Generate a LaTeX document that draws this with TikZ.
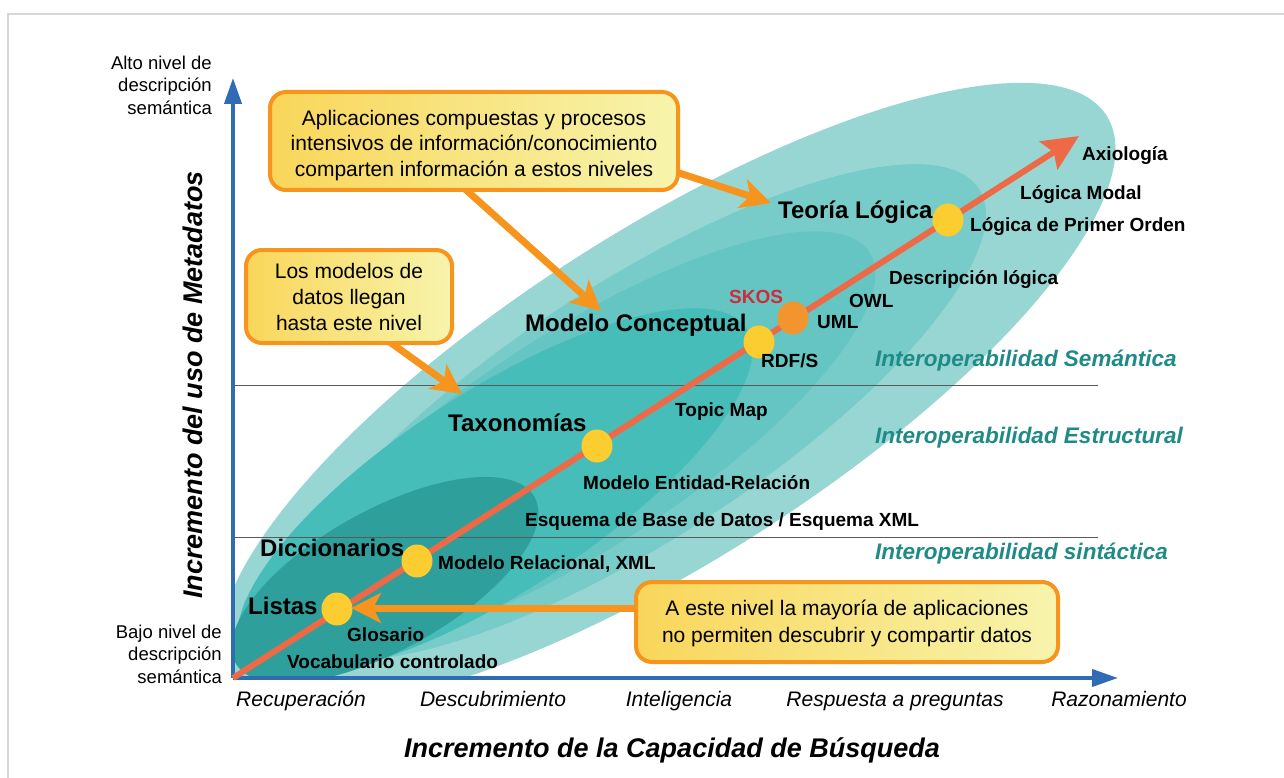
\documentclass[tikz,border=0pt]{standalone}
\usepackage{fontspec}
\setmainfont{Liberation Sans}
\usetikzlibrary{arrows.meta,shapes.geometric}
\definecolor{axisblue}{HTML}{2F6CB3}
\definecolor{frameg}{HTML}{D6D6D6}
\definecolor{tealA}{HTML}{98D6D3}
\definecolor{tealB}{HTML}{77CBC8}
\definecolor{tealC}{HTML}{64C5C2}
\definecolor{tealD}{HTML}{46BDB8}
\definecolor{tealE}{HTML}{2F9F9C}
\definecolor{diagred}{HTML}{EE6A47}
\definecolor{callorange}{HTML}{F7941D}
\definecolor{dotyellow}{HTML}{FCCD30}
\definecolor{dotorange}{HTML}{F3952F}
\definecolor{callL}{HTML}{F9D65A}
\definecolor{callR}{HTML}{F7F4AC}
\definecolor{interteal}{HTML}{1F8B87}
\definecolor{skosred}{HTML}{D22A3A}
\definecolor{rulegray}{HTML}{5A5A5A}
\newcommand\tealEllipse[6]{\fill[#1, rotate around={#6:(#2,#3)}] (#2,#3) ellipse [x radius=#4pt, y radius=#5pt];}
\tikzset{
  big/.style={inner sep=0pt, anchor=west, yshift=-4pt, font=\fontsize{24}{28}\selectfont\bfseries, text height=0.72em, text depth=0pt},
  small/.style={inner sep=0pt, anchor=west, yshift=-3.5pt, font=\fontsize{19}{22}\selectfont\bfseries, text height=0.72em, text depth=0pt},
  inter/.style={inner sep=0pt, anchor=west, yshift=-4.5pt, text=interteal, font=\fontsize{22.5}{26}\selectfont\bfseries\itshape, text height=0.72em, text depth=0pt},
  xlab/.style={inner sep=0pt, font=\fontsize{21}{24}\selectfont\itshape, text height=0.72em, text depth=0pt},
  ydesc/.style={inner sep=0pt, align=right, font=\fontsize{18.5}{22.5}\selectfont},
  title/.style={inner sep=0pt, font=\fontsize{27}{30}\selectfont\bfseries\itshape},
  callout/.style={draw=callorange, line width=4pt, rounded corners=16pt, left color=callL, right color=callR, inner sep=0pt},
  calltext/.style={align=center, inner sep=0pt},
  callarrow/.style={draw=callorange, line width=7pt, -{Stealth[length=30pt,width=30pt,inset=8pt]}},
  axisarrow/.style={draw=axisblue, line width=4pt, -{Triangle[length=26pt,width=17pt]}},
  dot/.style={ellipse, fill=dotyellow, minimum width=31pt, minimum height=33pt, inner sep=0pt},
}
\begin{document}
\begin{tikzpicture}[x=1pt,y=-1pt]
\useasboundingbox (0,0) rectangle (1284,778);
\fill[white] (0,0) rectangle (1284,778);
\draw[frameg, line width=1.5pt] (8,778) -- (8,14) -- (1284,14);

% nested lenses
\begin{scope}
\clip (233,0) rectangle (1284,678);
\tealEllipse{tealA}{668}{395}{520}{165}{32.5}
\tealEllipse{tealB}{635}{412}{410}{128}{33}
\tealEllipse{tealC}{580}{440}{345}{108}{33}
\tealEllipse{tealD}{495}{492}{300}{100}{33}
\tealEllipse{tealE}{385}{580}{171}{70}{29}
\end{scope}

% interoperability separators
\coordinate (s1a) at (233,385); \coordinate (s1b) at (1098,385);
\coordinate (s2a) at (233,537); \coordinate (s2b) at (1098,537);
\draw[rulegray, line width=1pt] (s1a) -- (s1b);
\draw[rulegray, line width=1pt] (s2a) -- (s2b);

% axes
\coordinate (O) at (233,678);
\coordinate (ytip) at (233,78);
\coordinate (xtip) at (1118,678);
\draw[axisarrow] (O) -- (ytip);
\draw[axisarrow] (O) -- (xtip);

% diagonal arrow
\coordinate (dstart) at (233,678);
\coordinate (dtip) at (1079,136);
\draw[diagred, line width=6pt, -{Stealth[length=36pt,width=33pt,inset=6pt]}] (dstart) -- (dtip);

% dots
\node[dot] (dl) at (337,609) {};
\node[dot] (dd) at (417,561) {};
\node[dot] (dt) at (597,446) {};
\node[dot] (dm) at (759,342) {};
\node[dot, fill=dotorange] (ds) at (793,318) {};
\node[dot] (dlt) at (948,220) {};

% big labels
\node[big] (listas) at (248,607) {Listas};
\node[big] (dicc) at (260,549) {Diccionarios};
\node[big] (taxo) at (448,424) {Taxonomías};
\node[big] (mcon) at (525,324) {Modelo Conceptual};
\node[big] (teor) at (778,211) {Teoría Lógica};

% small labels
\node[small] (glos) at (347,634) {Glosario};
\node[small] (voca) at (287,661) {Vocabulario controlado};
\node[small] (mrel) at (438,562) {Modelo Relacional, XML};
\node[small] (esq) at (525,519) {Esquema de Base de Datos / Esquema XML};
\node[small] (mer) at (583,482) {Modelo Entidad-Relación};
\node[small] (topic) at (675,409) {Topic Map};
\node[small] (rdfs) at (761,360) {RDF/S};
\node[small] (uml) at (817,321) {UML};
\node[small, text=skosred] (skos) at (729,296) {SKOS};
\node[small] (owl) at (849,300) {OWL};
\node[small] (dlog) at (889,277) {Descripción lógica};
\node[small] (lpo) at (970,224) {Lógica de Primer Orden};
\node[small] (lmod) at (1020,192) {Lógica Modal};
\node[small] (axio) at (1082,153) {Axiología};

% interoperability labels
\node[inter] (isem) at (875,358) {Interoperabilidad Semántica};
\node[inter] (iest) at (875,435) {Interoperabilidad Estructural};
\node[inter] (isin) at (875,551) {Interoperabilidad sintáctica};

% axis descriptions
\node[ydesc, anchor=east] (alto) at (212,85) {Alto nivel de\\descripción\\semántica};
\node[ydesc, anchor=east] (bajo) at (222,654) {Bajo nivel de\\descripción\\semántica};
\node[title, rotate=90] (ytitle) at (193,385) {Incremento del uso de Metadatos};
\node[title] (xtitle) at (672,750) {Incremento de la Capacidad de Búsqueda};
\node[xlab] (x1) at (301,703) {Recuperación};
\node[xlab] (x2) at (493,703) {Descubrimiento};
\node[xlab] (x3) at (679,703) {Inteligencia};
\node[xlab] (x4) at (895,703) {Respuesta a preguntas};
\node[xlab] (x5) at (1119,703) {Razonamiento};

% callout arrows
\coordinate (c1s) at (455,180); \coordinate (c1t) at (601,311);
\coordinate (c1s2) at (670,170); \coordinate (c1t2) at (771,203);
\coordinate (c2s) at (380,335); \coordinate (c2t) at (462,394);
\coordinate (c3s) at (650,608); \coordinate (c3t) at (351,608);
\draw[callarrow] (c1s) -- (c1t);
\draw[callarrow] (c1s2) -- (c1t2);
\draw[callarrow] (c2s) -- (c2t);
\draw[callarrow] (c3s) -- (c3t);

% callout boxes
\node[callout, minimum width=408pt, minimum height=98pt] (box1) at (474,141) {};
\node[calltext, font=\fontsize{21}{25.5}\selectfont] (box1t) at (474,145.5)
  {Aplicaciones compuestas y procesos\\intensivos de información/conocimiento\\comparten información a estos niveles};
\node[callout, minimum width=206pt, minimum height=93pt] (box2) at (349,296.5) {};
\node[calltext, font=\fontsize{21}{26}\selectfont] (box2t) at (349,297)
  {Los modelos de\\datos llegan\\hasta este nivel};
\node[callout, minimum width=422pt, minimum height=80pt] (box3) at (847,622) {};
\node[calltext, font=\fontsize{21}{27}\selectfont] (box3t) at (847,623.5)
  {A este nivel la mayoría de aplicaciones\\no permiten descubrir y compartir datos};
\end{tikzpicture}
\end{document}
